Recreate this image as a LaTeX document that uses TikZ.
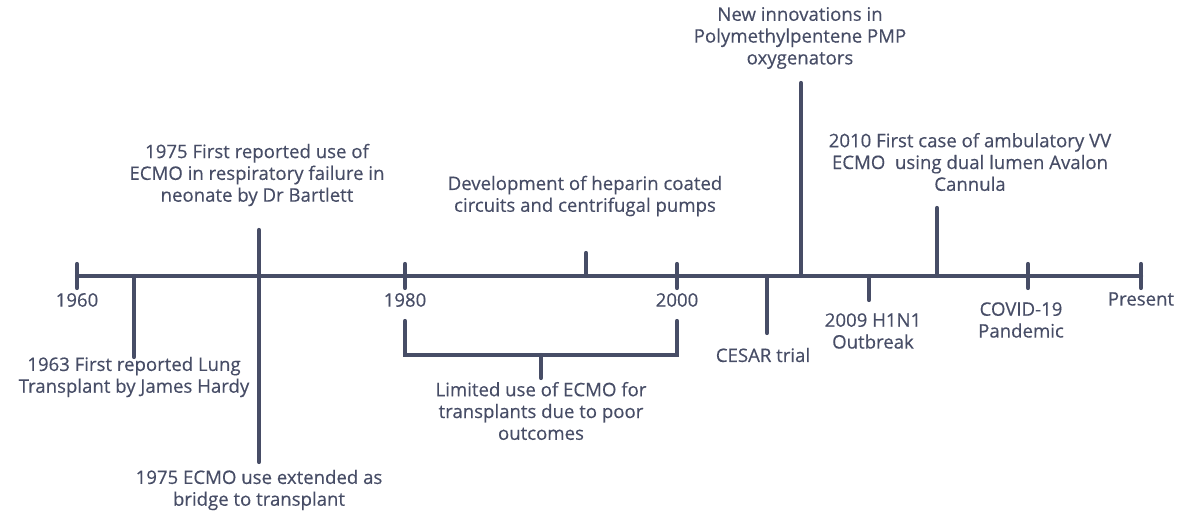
\documentclass[tikz,border=0pt]{standalone}
\usepackage{fontspec}
\setmainfont{Open Sans}[FakeBold=0.35]
\definecolor{slate}{HTML}{474D66}

\begin{document}
\begin{tikzpicture}[x=0.5pt, y=-0.5pt, line width=2.1pt, line cap=round, draw=slate,
                    every node/.style={text=slate, font=\fontsize{9.3}{10.9}\selectfont},
                    event text/.style={align=center, inner sep=0pt},
                    year tick/.style={draw=slate}]

  \useasboundingbox (0,0) rectangle (1189,517);

  % points on the axis
  \coordinate (a1960) at (77,276);
  \coordinate (a1963) at (134,276);
  \coordinate (a1975) at (259,276);
  \coordinate (a1980) at (405,276);
  \coordinate (a1990) at (586,276);
  \coordinate (a2000) at (677,276);
  \coordinate (aCesar) at (767,276);
  \coordinate (aPmp) at (801,276);
  \coordinate (aH1n1) at (869,276);
  \coordinate (a2010) at (937,276);
  \coordinate (aCovid) at (1028,276);
  \coordinate (aNow) at (1141,276);

  % free ends of the stems
  \coordinate (e1963) at (134,357);
  \coordinate (e1975up) at (259,230);
  \coordinate (e1975dn) at (259,462);
  \coordinate (e1990) at (586,253);
  \coordinate (eCesar) at (767,333);
  \coordinate (ePmp) at (801,83);
  \coordinate (eH1n1) at (869,300);
  \coordinate (e2010) at (937,208);
  \coordinate (bl) at (405,321);
  \coordinate (br) at (677,321);
  \coordinate (bm) at (541,355);
  \coordinate (bs) at (541,378);

  \node (l1960) at (77,300) {1960};
  \node (l1980) at (405,300) {1980};
  \node (l2000) at (677,300) {2000};
  \node (lNow) at (1141,299) {Present};
  \node[event text] (t1963) at (134,377) {1963 First reported Lung\\Transplant by James Hardy};
  \node[event text] (t1975up) at (257,175) {1975 First reported use of\\ECMO in respiratory failure in\\neonate by Dr Bartlett};
  \node[event text] (t1975dn) at (259,490) {1975 ECMO use extended as\\bridge to transplant};
  \node[event text] (tLimited) at (541,411) {Limited use of ECMO for\\transplants due to poor\\outcomes};
  \node[event text] (tHeparin) at (585,196) {Development of heparin coated\\circuits and centrifugal pumps};
  \node[event text] (tCesar) at (763,355) {CESAR trial};
  \node[event text] (tPmp) at (800,38) {New innovations in\\Polymethylpentene PMP\\oxygenators};
  \node[event text] (tH1n1) at (873,331) {2009 H1N1\\Outbreak};
  \node[event text] (t2010) at (970,162) {2010 First case of ambulatory VV\\ECMO\ \ using dual lumen Avalon\\Cannula};
  \node[event text] (tCovid) at (1021,320) {COVID-19\\Pandemic};

  % axis and ticks
  \draw (a1960) -- (aNow);
  \foreach \p in {a1960,a1980,a2000,aCovid,aNow}
    \draw[year tick] ([yshift=6pt]\p) -- ([yshift=-6pt]\p);

  % stems
  \draw (a1963) -- (e1963);
  \draw (e1975up) -- (e1975dn);
  \draw (a1990) -- (e1990);
  \draw (aCesar) -- (eCesar);
  \draw (aPmp) -- (ePmp);
  \draw (aH1n1) -- (eH1n1);
  \draw (a2010) -- (e2010);
  \draw (bl) |- (bm) -| (br);
  \draw (bm) -- (bs);
\end{tikzpicture}
\end{document}
